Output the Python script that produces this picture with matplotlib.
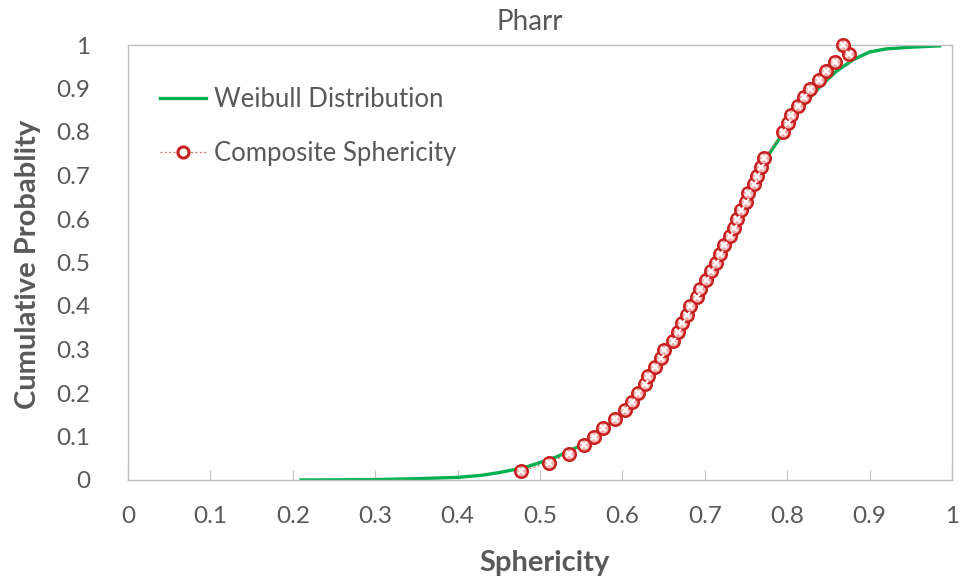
import matplotlib
matplotlib.use("Agg")
import matplotlib.pyplot as plt

# Composite sphericity data points
comp_x = [0.477, 0.511, 0.535, 0.553, 0.566, 0.576, 0.591, 0.603, 0.612, 0.619,
          0.627, 0.631, 0.640, 0.647, 0.651, 0.662, 0.667, 0.672, 0.678, 0.682,
          0.690, 0.694, 0.701, 0.707, 0.713, 0.718, 0.723, 0.731, 0.736, 0.739,
          0.744, 0.750, 0.753, 0.760, 0.763, 0.768, 0.772, 0.795, 0.801, 0.805,
          0.813, 0.820, 0.828, 0.838, 0.847, 0.858, 0.875, 0.868]
comp_y = [0.02, 0.04, 0.06, 0.08, 0.10, 0.12, 0.14, 0.16, 0.18, 0.20,
          0.22, 0.24, 0.26, 0.28, 0.30, 0.32, 0.34, 0.36, 0.38, 0.40,
          0.42, 0.44, 0.46, 0.48, 0.50, 0.52, 0.54, 0.56, 0.58, 0.60,
          0.62, 0.64, 0.66, 0.68, 0.70, 0.72, 0.74, 0.80, 0.82, 0.84,
          0.86, 0.88, 0.90, 0.92, 0.94, 0.96, 0.98, 1.00]

# Weibull distribution curve
weib_x = [0.21, 0.25, 0.30, 0.35, 0.40, 0.43, 0.45, 0.48, 0.50, 0.52, 0.55, 0.57,
          0.60, 0.62, 0.64, 0.66, 0.68, 0.70, 0.72, 0.74, 0.76, 0.78, 0.80, 0.82,
          0.84, 0.86, 0.88, 0.90, 0.92, 0.95, 0.985]
weib_y = [0.0, 0.0003, 0.001, 0.003, 0.006, 0.011, 0.017, 0.028, 0.04, 0.053, 0.08, 0.105,
          0.155, 0.198, 0.255, 0.315, 0.385, 0.455, 0.53, 0.605, 0.685, 0.755, 0.812, 0.862,
          0.905, 0.94, 0.966, 0.984, 0.991, 0.995, 0.998]

x_ticks = [0, 0.1, 0.2, 0.3, 0.4, 0.5, 0.6, 0.7, 0.8, 0.9, 1]
x_tick_labels = ["0", "0.1", "0.2", "0.3", "0.4", "0.5", "0.6", "0.7", "0.8", "0.9", "1"]
y_ticks = [0, 0.1, 0.2, 0.3, 0.4, 0.5, 0.6, 0.7, 0.8, 0.9, 1]
y_tick_labels = ["0", "0.1", "0.2", "0.3", "0.4", "0.5", "0.6", "0.7", "0.8", "0.9", "1"]

plt.rcParams['font.family'] = ['Lato', 'DejaVu Sans']
grey = '#595959'
spine_c = '#bfbfbf'

fig = plt.figure(figsize=(9.64, 5.83), dpi=100)
ax = fig.add_axes([128/964, 1-480/583, (952-128)/964, (480-45)/583])

line_w, = ax.plot(weib_x, weib_y, color='#00b050', lw=2.4, label='Weibull Distribution', zorder=2)
ax.plot(comp_x, comp_y, color='#e06666', lw=0.9, ls=(0, (1.5, 2)), zorder=3, clip_on=False)
ax.plot(comp_x, comp_y, ls='none', marker='o', ms=9, mfc='#f0b0b0', mec='#c8201e', mew=1.8,
        zorder=4, clip_on=False)
ax.plot(comp_x, comp_y, ls='none', marker='x', ms=4, mec='white', mew=1.6, zorder=5, clip_on=False)
leg_comp, = ax.plot([], [], color='#e06666', lw=0.9, ls=(0, (1.5, 2)), marker='o', ms=8,
                    mfc='white', mec='#c8201e', mew=2.2, label='Composite Sphericity')

ax.set_xlim(0, 1)
ax.set_ylim(0, 1)
ax.set_xticks(x_ticks)
ax.set_xticklabels(x_tick_labels)
ax.set_yticks(y_ticks)
ax.set_yticklabels(y_tick_labels)
ax.tick_params(axis='x', direction='in', length=7, color=spine_c, labelsize=17.5, labelcolor=grey, pad=19)
ax.tick_params(axis='y', direction='in', length=0, color=spine_c, labelsize=17.5, labelcolor=grey, pad=27)
for s in ax.spines.values():
    s.set_color(spine_c)
    s.set_linewidth(1.0)

fig.text(530/964, 1-22/583, 'Pharr', ha='center', va='center', fontsize=20, color=grey)
fig.text(545/964, 1-563/583, 'Sphericity', ha='center', va='center', fontsize=21, fontweight='bold', color=grey)
fig.text(28/964, 1-264/583, 'Cumulative Probablity', ha='center', va='center', rotation=90,
         fontsize=21, fontweight='bold', color=grey)

leg = ax.legend(handles=[line_w, leg_comp], loc='upper left',
                bbox_to_anchor=(160/964, 1-87/583), bbox_transform=fig.transFigure,
                frameon=False, fontsize=18.5, labelcolor=grey, handlelength=1.8,
                labelspacing=1.12, handletextpad=0.3, borderpad=0, borderaxespad=0)

fig.savefig('out.png', dpi=100)
